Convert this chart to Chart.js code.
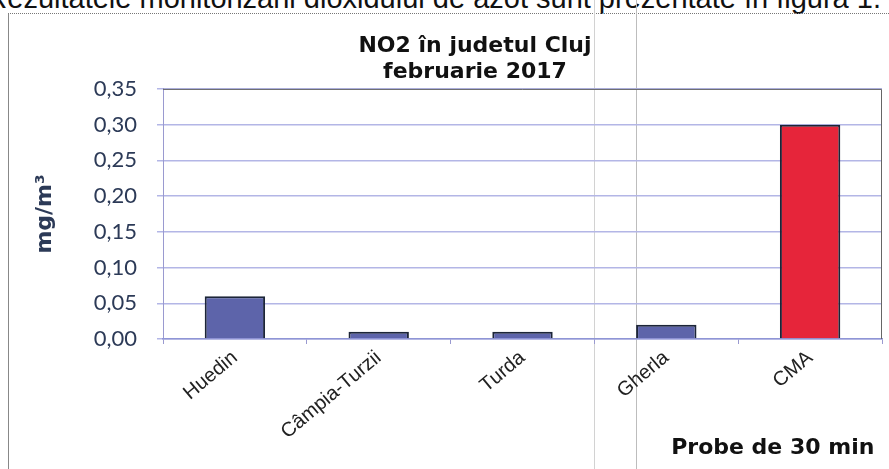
<!DOCTYPE html>
<html>
<head>
<meta charset="utf-8">
<script src="https://cdn.jsdelivr.net/npm/chart.js@4"></script>
<style>
  html, body { margin: 0; padding: 0; background: #fff; width: 889px; height: 469px; overflow: hidden; }
  #topline {
    position: absolute; right: 8px; top: -18px; white-space: nowrap;
    font: 29px "Liberation Sans", Arial, sans-serif; color: #111;
  }
  #frame {
    position: absolute; left: 8px; top: 13px; width: 900px; height: 470px;
    border-left: 1px solid #888; border-top: 1px dotted #777;
  }
  .scan { position: absolute; top: 0; width: 1px; height: 469px; background: #d2d2d2; }
  #wrap { position: absolute; left: 10px; top: 15px; width: 930px; height: 454px; }
</style>
</head>
<body>
<div id="topline">Rezultatele monitorizării dioxidului de azot sunt prezentate în figura 1.</div>
<div id="frame"></div>
<div class="scan" style="left:594px"></div>
<div class="scan" style="left:636px; background:#bdbdbd"></div>
<div id="wrap"><canvas id="grafic"></canvas></div>
<script>
// date
const statii = ["Huedin", "Câmpia-Turzii", "Turda", "Gherla", "CMA"];
const valoriNO2 = [0.06, 0.01, 0.01, 0.02, 0.30];
const culoriBare = ["#5d64aa", "#5d64aa", "#5d64aa", "#5d64aa", "#e6253a"];
const titlu = ["NO2 în judetul Cluj", "februarie 2017"];

const textAxa = "#2c3a57";

// contur zona graficului
const contur = {
  id: "contur",
  afterDraw(chart) {
    const { ctx, chartArea: a } = chart;
    ctx.save();
    ctx.strokeStyle = "#666";
    ctx.lineWidth = 1;
    ctx.beginPath();
    ctx.moveTo(a.left, a.top + 0.5);
    ctx.lineTo(a.right - 0.5, a.top + 0.5);
    ctx.lineTo(a.right - 0.5, a.bottom);
    ctx.stroke();
    ctx.restore();
  },
};

new Chart(document.getElementById("grafic").getContext("2d"), {
  type: "bar",
  data: {
    labels: statii,
    datasets: [
      {
        label: "NO2",
        data: valoriNO2,
        backgroundColor: culoriBare,
        borderColor: "#1c2538",
        borderWidth: 2,
        barPercentage: 0.84,
        categoryPercentage: 0.5,
      },
    ],
  },
  options: {
    responsive: true,
    maintainAspectRatio: false,
    animation: false,
    layout: { padding: 0 },
    plugins: {
      legend: { display: false },
      tooltip: { enabled: false },
      title: {
        display: true,
        text: titlu,
        color: "#111",
        font: { family: "'DejaVu Sans', sans-serif", size: 22, weight: "bold", lineHeight: 1.18 },
        padding: { top: 18, bottom: 4 },
      },
    },
    scales: {
      y: {
        min: 0,
        max: 0.35,
        ticks: {
          stepSize: 0.05,
          color: textAxa,
          font: { family: "Lato, 'Open Sans', sans-serif", size: 22 },
          padding: 20,
          callback: (v) => v.toFixed(2).replace(".", ","),
        },
        grid: { color: "#b3b6e6", lineWidth: 1.5, tickLength: 6 },
        border: { color: "#9a9ad0" },
        title: {
          display: true,
          text: "mg/m³",
          color: textAxa,
          font: { family: "'DejaVu Sans', sans-serif", size: 22, weight: "bold" },
          padding: { top: 22, bottom: 0 },
        },
        afterFit: (s) => { s.width = 153; },
      },
      // axa goala din dreapta, doar pentru spatiu
      dreapta: {
        position: "right",
        display: true,
        ticks: { display: false },
        grid: { display: false },
        border: { display: false },
        afterFit: (s) => { s.width = 58; },
      },
      x: {
        ticks: {
          color: "#222",
          font: { family: "'Liberation Sans', Arial", size: 20 },
          maxRotation: 40,
          minRotation: 40,
          padding: 2,
        },
        grid: { display: true, drawOnChartArea: false, color: "#9a9ad0", tickLength: 5 },
        border: { color: "#8f95d6", width: 1.5 },
        title: {
          display: true,
          text: "Probe de 30 min\u00a0",
          align: "end",
          color: "#111",
          font: { family: "'DejaVu Sans', sans-serif", size: 22, weight: "bold" },
          padding: { top: 4, bottom: 8 },
        },
        afterFit: (s) => { s.height = 130; },
      },
    },
  },
  plugins: [contur],
});
</script>
</body>
</html>
